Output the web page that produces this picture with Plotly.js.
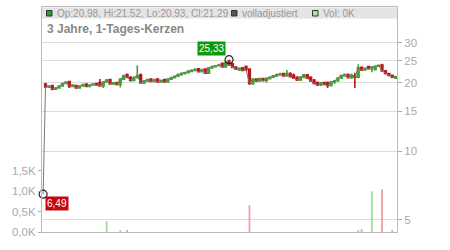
<!DOCTYPE html>
<html>
<head>
<meta charset="utf-8">
<script src="https://cdn.plot.ly/plotly-3.0.1.min.js"></script>
<style>html,body{margin:0;padding:0;background:#fff}#chart{width:450px;height:250px}</style>
</head>
<body>
<div id="chart"></div>
<script>
// ---- data ----
const candleIndex = Array.from({length: 104}, (_, i) => i);
const openPrices  = [19.8,19.2,19.5,18.8,19.0,19.4,19.9,20.3,19.3,19.5,19.0,19.4,19.8,19.3,19.6,19.9,20.1,19.4,20.2,20.7,
  19.8,20.1,19.7,20.8,21.8,21.2,20.5,21.1,21.7,20.0,20.4,20.8,20.3,20.8,20.2,20.7,20.2,20.8,21.1,21.4,
  21.8,22.0,22.2,22.5,22.7,23.1,22.4,23.0,22.1,23.3,23.6,23.8,24.4,23.5,25.0,24.3,23.5,22.8,23.3,23.6,
  23.0,19.9,20.8,20.4,20.9,20.5,20.9,21.2,21.5,21.7,22.0,21.5,22.0,21.6,21.2,20.6,21.2,21.7,21.2,20.6,
  20.1,19.6,20.1,20.1,19.5,20.2,20.4,21.0,21.5,21.8,21.1,21.5,21.2,23.4,22.8,23.6,23.1,22.9,23.7,24.0,
  22.6,22.0,21.6,20.98];
const highPrices  = [20.0,19.5,19.6,19.1,19.5,20.1,20.3,20.4,19.7,19.6,19.5,19.8,19.9,19.7,19.9,20.0,20.8,20.3,20.8,20.9,
  20.2,20.2,21.0,21.8,22.0,21.4,21.4,23.9,22.0,20.6,20.9,21.0,20.9,21.0,20.7,20.9,21.0,21.3,21.6,22.0,
  22.3,22.4,22.8,23.0,23.2,23.3,23.1,23.1,23.5,23.9,24.0,24.3,24.6,25.0,25.33,24.5,23.7,23.4,23.5,23.9,
  23.2,21.0,21.0,21.0,21.0,21.2,21.4,21.7,22.0,22.2,22.2,22.8,22.3,22.0,21.4,21.4,21.9,21.9,21.4,20.8,
  20.3,20.2,20.2,20.3,20.4,20.6,21.2,21.8,22.0,22.0,22.0,22.2,24.2,23.7,23.4,23.8,23.7,23.9,24.1,24.3,
  22.8,22.2,21.8,21.52];
const lowPrices   = [19.1,19.0,18.6,18.7,18.9,19.3,19.8,19.0,19.2,18.9,18.9,19.3,19.2,19.2,19.5,19.5,19.3,19.0,20.0,19.7,
  19.6,19.5,19.1,20.6,21.0,20.3,20.4,21.0,19.9,19.8,20.2,20.2,20.2,20.1,20.1,20.1,20.1,20.7,21.0,21.3,
  21.5,21.8,22.0,22.3,22.5,22.3,22.3,22.0,22.0,23.2,23.5,23.7,23.4,23.4,23.9,23.2,22.8,22.6,22.5,22.6,
  19.6,19.6,20.2,20.3,20.3,20.1,20.8,21.1,21.4,21.6,21.4,21.4,21.2,20.8,20.4,20.4,21.0,20.9,20.3,19.7,
  19.4,19.4,19.6,19.0,19.3,19.8,20.3,20.9,21.3,21.0,20.9,19.0,21.0,22.6,22.7,23.0,22.3,22.8,23.5,22.4,
  21.8,21.4,21.0,20.93];
const closePrices = [19.2,19.4,18.8,19.0,19.4,19.9,20.2,19.3,19.6,19.0,19.4,19.7,19.3,19.6,19.8,19.6,19.4,20.2,20.6,19.8,
  20.0,19.7,20.8,21.5,21.2,20.5,21.1,21.5,20.0,20.4,20.7,20.3,20.7,20.2,20.5,20.2,20.8,21.1,21.4,21.8,
  22.0,22.2,22.5,22.7,22.9,22.4,22.9,22.1,23.3,23.6,23.8,24.0,23.5,24.6,24.0,23.4,23.0,23.2,22.7,22.9,
  19.9,20.8,20.4,20.9,20.5,20.9,21.2,21.5,21.7,21.9,21.5,22.0,21.3,21.0,20.6,21.2,21.7,21.0,20.4,19.9,
  19.6,20.0,19.7,19.5,20.2,20.4,21.0,21.5,21.8,21.1,21.6,21.2,23.3,22.8,23.2,23.1,23.5,23.7,23.9,22.6,
  22.0,21.6,21.2,21.29];
// volume in thousands
const volumeK = [0,0,0,0,0,0,0,0,0,0,0,0,0,0,0,0,0,0,0.27,0,
  0,0,0.05,0,0.05,0,0,0,0,0,0,0,0,0,0,0,0,0,0,0,
  0,0,0,0,0,0,0,0,0,0,0,0,0,0,0,0,0,0,0,0,
  0.66,0,0,0,0,0,0,0,0,0,0,0,0,0,0,0,0,0,0,0,
  0,0,0,0,0,0,0,0,0,0,0,0,0.05,0.07,0,0,1.0,0,0,1.05,
  0,0,0.05,0];
// fully adjusted line starts at a bad print
const adjStartX = -0.7;
const adjStartPrice = 6.49;
const peakIndex = 54;
const peakPrice = 25.33;
const priceTicks = [5, 10, 15, 20, 25, 30];
const volTicks = [0, 0.5, 1.0, 1.5];
const volTickText = ['0,0K', '0,5K', '1,0K', '1,5K'];
const legendOHLC = 'Op:20.98, Hi:21.52, Lo:20.93, Cl:21.29';
const legendAdj = 'volladjustiert';
const legendVol = 'Vol: 0K';
const chartTitle = '3 Jahre, 1-Tages-Kerzen';

// ---- styles ----
const GREEN = '#3fa32c', RED = '#bf1419';
const VGREEN = '#a6dca0', VRED = '#f0a2aa';
const FONT = 'Liberation Sans, Arial, sans-serif';

const volColors = volumeK.map((v, i) => closePrices[i] >= openPrices[i] ? VGREEN : VRED);

const traces = [
  {
    type: 'bar', x: candleIndex, y: volumeK, yaxis: 'y2', xaxis: 'x',
    marker: {color: volColors, line: {width: 0}}, width: 0.55, hoverinfo: 'skip', showlegend: false
  },
  {
    type: 'scatter', mode: 'lines', x: [adjStartX].concat(candleIndex), y: [adjStartPrice].concat(closePrices),
    line: {color: '#777', width: 1}, hoverinfo: 'skip', showlegend: false
  },
  {
    type: 'candlestick', x: candleIndex, open: openPrices, high: highPrices, low: lowPrices, close: closePrices,
    increasing: {line: {color: GREEN, width: 1.6}, fillcolor: GREEN},
    decreasing: {line: {color: RED, width: 1.6}, fillcolor: RED},
    whiskerwidth: 0, hoverinfo: 'skip', showlegend: false
  },
  {
    type: 'scatter', mode: 'markers', x: [peakIndex, adjStartX], y: [peakPrice, adjStartPrice],
    marker: {symbol: 'circle-open', size: 8, color: '#222', line: {width: 1.2}}, hoverinfo: 'skip', showlegend: false, cliponaxis: false
  }
];

// pixel helpers for paper coordinates
const L = 42, R = 397, T = 7, B = 232;
const px = v => (v - L) / (R - L);
const py = v => (B - v) / (B - T);

const shapes = [
  {type: 'rect', xref: 'paper', yref: 'paper', x0: 0, x1: 1, y0: py(18.5), y1: py(7.5), fillcolor: '#e4e4e4', line: {width: 0}, layer: 'above'},
  {type: 'rect', xref: 'paper', yref: 'paper', x0: px(46.5), x1: px(52), y0: py(16), y1: py(10.5), fillcolor: '#2f9e2f', line: {color: '#333', width: 1}, layer: 'above'},
  {type: 'rect', xref: 'paper', yref: 'paper', x0: px(231.5), x1: px(237), y0: py(16), y1: py(10.5), fillcolor: '#555', line: {color: '#333', width: 1}, layer: 'above'},
  {type: 'rect', xref: 'paper', yref: 'paper', x0: px(312.5), x1: px(318), y0: py(16), y1: py(10.5), fillcolor: '#b4e2ac', line: {color: '#333', width: 1}, layer: 'above'}
];

const legendFont = {family: FONT, size: 10, color: '#999'};
const annotations = [
  {xref: 'paper', yref: 'paper', x: px(54.5), y: py(13.2), xanchor: 'left', yanchor: 'middle', text: legendOHLC, showarrow: false, font: legendFont},
  {xref: 'paper', yref: 'paper', x: px(239.5), y: py(13.2), xanchor: 'left', yanchor: 'middle', text: legendAdj, showarrow: false, font: legendFont},
  {xref: 'paper', yref: 'paper', x: px(320.5), y: py(13.2), xanchor: 'left', yanchor: 'middle', text: legendVol, showarrow: false, font: legendFont},
  {xref: 'paper', yref: 'paper', x: px(45), y: py(29.5), xanchor: 'left', yanchor: 'middle', text: '<b>' + chartTitle + '</b>', showarrow: false, font: {family: FONT, size: 12, color: '#888'}},
  {x: peakIndex, y: Math.log10(peakPrice), xref: 'x', yref: 'y', xanchor: 'right', yanchor: 'bottom', xshift: -3, yshift: 4,
   text: String(peakPrice).replace('.', ','), showarrow: false, bgcolor: '#0c9a0c', borderpad: 1,
   font: {family: FONT, size: 10, color: '#fff'}},
  {x: adjStartX, y: Math.log10(adjStartPrice), xref: 'x', yref: 'y', xanchor: 'left', yanchor: 'top', xshift: 2, yshift: -2,
   text: String(adjStartPrice).replace('.', ','), showarrow: false, bgcolor: '#c8070c', borderpad: 1,
   font: {family: FONT, size: 10, color: '#fff'}}
];

const layout = {
  width: 450, height: 250,
  margin: {l: L, r: 450 - R, t: T, b: 250 - B, pad: 0},
  paper_bgcolor: '#fff', plot_bgcolor: '#fff',
  showlegend: false, hovermode: false,
  xaxis: {
    range: [-1.03, 103.4], showgrid: false, zeroline: false, showticklabels: false, ticks: '',
    showline: true, mirror: true, linecolor: '#bbb', linewidth: 1, rangeslider: {visible: false}, fixedrange: true
  },
  yaxis: {
    type: 'log', side: 'right', range: [0.646, 1.635], tickvals: priceTicks, ticktext: priceTicks.map(String),
    showgrid: true, gridcolor: '#dcdcdc', gridwidth: 1, zeroline: false,
    ticks: 'outside', ticklen: 4, tickcolor: '#aaa', showline: true, linecolor: '#bbb', linewidth: 1,
    tickfont: {family: FONT, size: 11.5, color: '#aaa'}, fixedrange: true
  },
  yaxis2: {
    overlaying: 'y', side: 'left', range: [0, 5.53], tickvals: volTicks, ticktext: volTickText,
    showgrid: false, zeroline: false, ticks: 'outside', ticklen: 3, tickcolor: '#aaa',
    showline: true, linecolor: '#bbb', linewidth: 1,
    tickfont: {family: FONT, size: 11.5, color: '#aaa'}, fixedrange: true
  },
  shapes: shapes,
  annotations: annotations
};

Plotly.newPlot('chart', traces, layout, {displayModeBar: false, staticPlot: true});
</script>
</body>
</html>
